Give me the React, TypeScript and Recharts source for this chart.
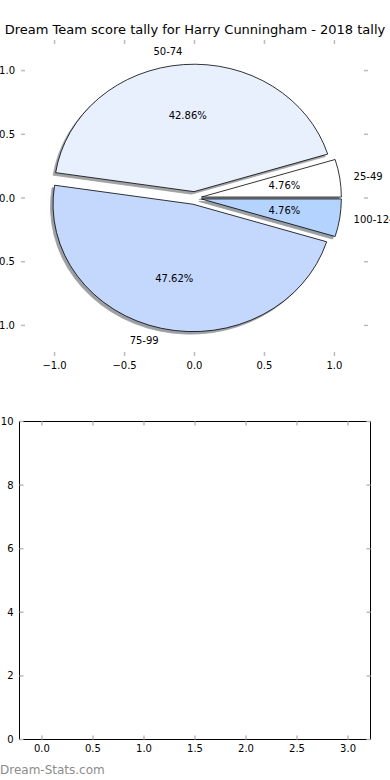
import { ScatterChart, Scatter, XAxis, YAxis, ReferenceArea, PieChart, Pie } from "recharts";

const title = "Dream Team score tally for Harry Cunningham - 2018 tally";
const sliceLabels = ["25-49", "50-74", "75-99", "100-124"];
const sliceCounts = [1, 9, 10, 1];
const sliceColors = ["#ffffff", "#e8f0fe", "#c4d8fd", "#b4d4ff"];

const pieTicks = [-1, -0.5, 0, 0.5, 1];
const lowerXTicks = [0, 0.5, 1, 1.5, 2, 2.5, 3];
const lowerYTicks = [0, 2, 4, 6, 8, 10];

const FONT = "DejaVu Sans";
const TICK = "#bbbbbb";

// plot boxes, in page pixels
const TOP = { left: 21, right: 368, top: 40, bottom: 356 };
const BOT = { left: 19.5, right: 370.5, top: 421.5, bottom: 739.5 };
const LIM = 1.24;
const CX = (TOP.left + TOP.right) / 2;
const CY = (TOP.top + TOP.bottom) / 2;
const RX = (TOP.right - TOP.left) / 2 / LIM;
const RY = (TOP.bottom - TOP.top) / 2 / LIM;
const EXPLODE = 0.05;

const pieData = sliceLabels.map((name, i) => ({ name, value: sliceCounts[i], color: sliceColors[i] }));

const fmt1 = (v: number) => v.toFixed(1).replace("-", "\u2212");

function wedge(cx: number, cy: number, a0: number, a1: number) {
  const r = Math.PI / 180;
  const x0 = cx + RX * Math.cos(a0 * r), y0 = cy - RY * Math.sin(a0 * r);
  const x1 = cx + RX * Math.cos(a1 * r), y1 = cy - RY * Math.sin(a1 * r);
  const large = a1 - a0 > 180 ? 1 : 0;
  return `M${cx},${cy} L${x0},${y0} A${RX},${RY} 0 ${large} 0 ${x1},${y1} Z`;
}

function shifted(p: any) {
  const a = (p.midAngle * Math.PI) / 180;
  return { x: p.cx + EXPLODE * RX * Math.cos(a), y: p.cy - EXPLODE * RY * Math.sin(a), cos: Math.cos(a), sin: Math.sin(a) };
}

function darker(hex: string) {
  const n = parseInt(hex.slice(1), 16);
  const c = [(n >> 16) & 255, (n >> 8) & 255, n & 255].map((v) => Math.round(v * 0.3));
  return `rgb(${c.join(",")})`;
}

const SliceShape = (p: any) => {
  const s = shifted(p);
  return <path d={wedge(s.x, s.y, p.startAngle, p.endAngle)} fill={p.payload.color} stroke="#000" strokeWidth={0.8} />;
};

const ShadowShape = (p: any) => {
  const s = shifted(p);
  const col = darker(p.payload.color);
  return <path d={wedge(s.x - 2.5, s.y + 2.5, p.startAngle, p.endAngle)} fill={col} stroke={col} strokeWidth={0.8} opacity={0.5} />;
};

const PieLabel = (p: any) => {
  const s = shifted(p);
  const lx = s.x + 1.1 * RX * s.cos;
  const ly = s.y - 1.1 * RY * s.sin;
  const px = s.x + 0.6 * RX * s.cos;
  const py = s.y - 0.6 * RY * s.sin;
  return (
    <g fontFamily={FONT} fontSize={10} fill="#000">
      <text x={lx} y={ly} textAnchor={lx > CX ? "start" : "end"} dominantBaseline="central">{p.name}</text>
      <text x={px} y={py} textAnchor="middle" dominantBaseline="central">{(p.percent * 100).toFixed(2)}%</text>
    </g>
  );
};

const makeXTick = (box: typeof TOP, format: (v: number) => string) => (p: any) => (
  <g>
    <line x1={p.x} x2={p.x} y1={box.bottom} y2={box.bottom - 4} stroke={TICK} strokeWidth={1.5} />
    <line x1={p.x} x2={p.x} y1={box.top} y2={box.top + 4} stroke={TICK} strokeWidth={1.5} />
    <text x={p.x} y={box.bottom + 9} textAnchor="middle" dominantBaseline="central" fontFamily={FONT} fontSize={10} fill="#000">
      {format(p.payload.value)}
    </text>
  </g>
);

const makeYTick = (box: typeof TOP, format: (v: number) => string) => (p: any) => (
  <g>
    <line x1={box.left} x2={box.left + 4} y1={p.y} y2={p.y} stroke={TICK} strokeWidth={1.5} />
    <line x1={box.right} x2={box.right - 4} y1={p.y} y2={p.y} stroke={TICK} strokeWidth={1.5} />
    <text x={box.left - 6} y={p.y} textAnchor="end" dominantBaseline="central" fontFamily={FONT} fontSize={10} fill="#000">
      {format(p.payload.value)}
    </text>
  </g>
);

const abs = { position: "absolute" as const, left: 0, top: 0 };

export default function App() {
  return (
    <div style={{ ...abs, width: 390, height: 780, background: "#fff", overflow: "hidden" }}>
      <div style={{ ...abs, top: 21, width: 390, textAlign: "center", fontFamily: FONT, fontSize: 13, lineHeight: "17px", whiteSpace: "nowrap" }}>
        {title}
      </div>

      <div style={abs}>
        <ScatterChart width={390} height={380} margin={{ top: TOP.top, right: 390 - TOP.right, bottom: 0, left: 0 }}>
          <XAxis type="number" dataKey="x" domain={[-LIM, LIM]} ticks={pieTicks} allowDataOverflow height={380 - TOP.bottom}
            axisLine={false} tickLine={false} tick={makeXTick(TOP, fmt1)} interval={0} />
          <YAxis type="number" dataKey="y" domain={[-LIM, LIM]} ticks={pieTicks} allowDataOverflow width={TOP.left}
            axisLine={false} tickLine={false} tick={makeYTick(TOP, fmt1)} interval={0} />
          <Scatter data={[]} isAnimationActive={false} />
        </ScatterChart>
      </div>

      <div style={abs}>
        <PieChart width={390} height={380} margin={{ top: 0, right: 0, bottom: 0, left: 0 }}>
          <Pie data={pieData} dataKey="value" nameKey="name" cx={CX} cy={CY} outerRadius={RX} startAngle={0} endAngle={360}
            shape={ShadowShape} label={false} labelLine={false} isAnimationActive={false} />
          <Pie data={pieData} dataKey="value" nameKey="name" cx={CX} cy={CY} outerRadius={RX} startAngle={0} endAngle={360}
            shape={SliceShape} label={PieLabel} labelLine={false} isAnimationActive={false} />
        </PieChart>
      </div>

      <div style={abs}>
        <ScatterChart width={390} height={780} margin={{ top: BOT.top, right: 390 - BOT.right, bottom: 780 - BOT.bottom - 24, left: 0 }}>
          <XAxis type="number" dataKey="x" domain={[-0.22, 3.22]} ticks={lowerXTicks} allowDataOverflow height={24}
            axisLine={false} tickLine={false} tick={makeXTick(BOT, fmt1)} interval={0} />
          <YAxis type="number" dataKey="y" domain={[0, 10]} ticks={lowerYTicks} allowDataOverflow width={BOT.left}
            axisLine={false} tickLine={false} tick={makeYTick(BOT, (v) => String(v))} interval={0} />
          <ReferenceArea x1={-0.22} x2={3.22} y1={0} y2={10} fill="none" stroke="#000" strokeWidth={1} strokeOpacity={1} ifOverflow="visible" />
          <Scatter data={[]} isAnimationActive={false} />
        </ScatterChart>
      </div>

      <div style={{ ...abs, top: 762, left: 0, fontFamily: FONT, fontSize: 12, color: "#8c8c8c", lineHeight: "16px" }}>
        Dream-Stats.com
      </div>
    </div>
  );
}
